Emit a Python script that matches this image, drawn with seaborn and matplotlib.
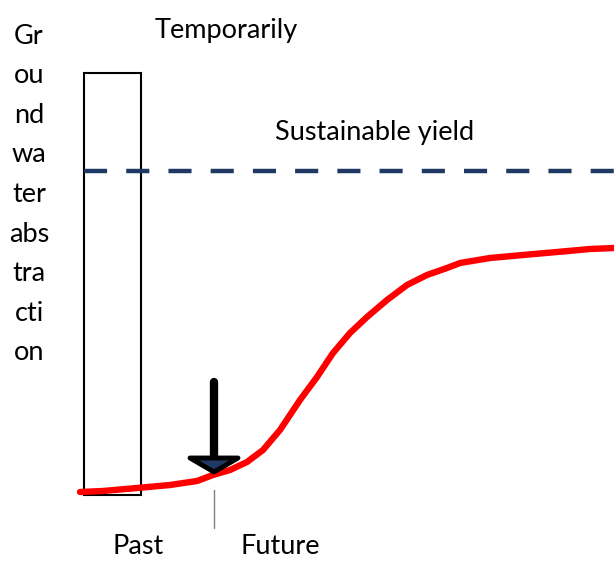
import matplotlib
matplotlib.use("Agg")
import matplotlib.pyplot as plt
import seaborn as sns
import pandas as pd
from matplotlib.patches import Polygon

# ---- data (diagram units: x to the right, y downward as in the sketch) ----
curve_x = [80, 103, 137, 170, 197, 213, 230, 247, 263, 280, 300, 317, 333, 350,
           367, 387, 407, 427, 447, 460, 490, 523, 557, 590, 614]
curve_y = [492, 491, 488, 485, 481, 475, 470, 462, 450, 430, 400, 377, 353, 333,
           317, 300, 285, 275, 268, 263, 258, 255, 252, 249, 248]

bar_left, bar_right = 84, 141
bar_top, bar_bottom = 73, 495

yield_level = 171
yield_x = [84, 614]

now_x = 214
arrow_top, arrow_tip = 382, 473

ylabel_parts = ["Gr", "ou", "nd", "wa", "ter", "abs", "tra", "cti", "on"]
label_temporarily = "Temporarily"
label_yield = "Sustainable yield"
label_past = "Past"
label_future = "Future"

sns.set_theme(style="white")
plt.rcParams["font.family"] = ["Lato", "DejaVu Sans"]

fig = plt.figure(figsize=(6.14, 5.61), dpi=100)
ax = fig.add_axes([0, 0, 1, 1])

# temporary bar
ax.bar([(bar_left + bar_right) / 2], [bar_top - bar_bottom], bottom=bar_bottom,
       width=bar_right - bar_left, fill=False, edgecolor="black", linewidth=1.5, zorder=2)

# sustainable yield
ax.plot(yield_x, [yield_level, yield_level], color="#1f3864", linewidth=3.2,
        dashes=(5.2, 4.3), zorder=3)

# red curve
df = pd.DataFrame({"x": curve_x, "y": curve_y})
sns.lineplot(data=df, x="x", y="y", ax=ax, color="#ff0000", linewidth=4.6,
             solid_capstyle="round", solid_joinstyle="round", sort=True, zorder=5)

# now marker (thin line)
ax.plot([now_x, now_x], [490, 528], color="#7f7f7f", linewidth=1.0, zorder=2)

# arrow
ax.plot([now_x, now_x], [arrow_top, arrow_tip - 16], color="black", linewidth=6,
        solid_capstyle="round", zorder=6)
head = Polygon([[now_x - 24, arrow_tip - 15], [now_x + 24, arrow_tip - 15], [now_x, arrow_tip - 1]],
               closed=True, facecolor="#1f3864", edgecolor="black", linewidth=3.5,
               joinstyle="round", zorder=7)
ax.add_patch(head)

# texts
fs = 19.5
for i, part in enumerate(ylabel_parts):
    ax.text(29, 36 + i * 39.6, part, ha="center", va="center", fontsize=fs, color="black")
ax.text(226, 30, label_temporarily, ha="center", va="center", fontsize=fs, color="black")
ax.text(375, 132, label_yield, ha="center", va="center", fontsize=fs, color="black")
ax.text(138, 547, label_past, ha="center", va="center", fontsize=fs, color="black")
ax.text(280, 547, label_future, ha="center", va="center", fontsize=fs, color="black")

ax.set_xlim(0, 614)
ax.set_ylim(561, 0)
ax.axis("off")

fig.savefig("out.png", dpi=100)
